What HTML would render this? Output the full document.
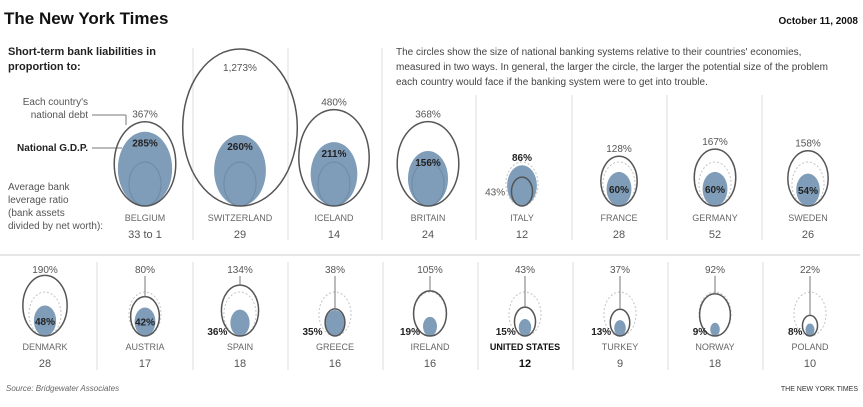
<!DOCTYPE html>
<html><head><meta charset="utf-8"><style>
body{margin:0;background:#fff;font-family:"Liberation Sans",sans-serif}
svg text{font-family:"Liberation Sans",sans-serif}
</style></head><body>
<svg id="c" width="863" height="402" viewBox="0 0 863 402">
<text x="4" y="24" font-family="Liberation Serif" font-size="17" font-weight="bold" fill="#111">The New York Times</text>
<text x="858" y="24" font-size="10" font-weight="bold" text-anchor="end" fill="#111">October 11, 2008</text>
<text x="8" y="55" font-size="11" font-weight="bold" fill="#222">Short-term bank liabilities in</text>
<text x="8" y="70" font-size="11" font-weight="bold" fill="#222">proportion to:</text>
<g font-size="10" fill="#444">
<text x="396" y="55">The circles show the size of national banking systems relative to their countries' economies,</text>
<text x="396" y="70">measured in two ways. In general, the larger the circle, the larger the potential size of the problem</text>
<text x="396" y="85">each country would face if the banking system were to get into trouble.</text>
</g>
<g font-size="10" fill="#555">
<text x="88" y="105" text-anchor="end">Each country's</text>
<text x="88" y="118" text-anchor="end">national debt</text>
<line x1="92" y1="115" x2="126" y2="115" stroke="#777"/><line x1="126" y1="115" x2="126" y2="125" stroke="#777"/>
<text x="88" y="151" text-anchor="end" font-weight="bold" fill="#222">National G.D.P.</text>
<line x1="92" y1="148" x2="122" y2="148" stroke="#777"/>
<text x="8" y="190">Average bank</text>
<text x="8" y="203">leverage ratio</text>
<text x="8" y="216">(bank assets</text>
<text x="8" y="229">divided by net worth):</text>
</g>
<line x1="0" y1="255" x2="860" y2="255" stroke="#ccc"/>
<text x="6" y="391" font-size="8" font-style="italic" fill="#666">Source: Bridgewater Associates</text>
<text x="858" y="391" font-size="7" font-family="Liberation Serif" text-anchor="end" fill="#333">THE NEW YORK TIMES</text>
<g id="g"></g>
</svg>
<script>
const countries=["BELGIUM","SWITZERLAND","ICELAND","BRITAIN","ITALY","FRANCE","GERMANY","SWEDEN","DENMARK","AUSTRIA","SPAIN","GREECE","IRELAND","UNITED STATES","TURKEY","NORWAY","POLAND"];
const debtPct=[367,1273,480,368,43,128,167,158,190,80,134,38,105,43,37,92,22];
const gdpPct=[285,260,211,156,86,60,60,54,48,42,36,35,19,15,13,9,8];
const leverage=["33 to 1","29","14","24","12","28","52","26","28","17","18","16","16","12","9","18","10"];
const topX=[145,240,334,428,522,619,715,808];
const botX=[45,145,240,335,430,525,620,715,810];
const NS="http://www.w3.org/2000/svg",g=document.getElementById('g');
const ry=v=>2.2*Math.sqrt(v), rx=v=>ry(v)*0.73;
function el(t,a,txt){const e=document.createElementNS(NS,t);for(const k in a)e.setAttribute(k,a[k]);if(txt!=null)e.textContent=txt;g.appendChild(e);return e;}
[193,288].forEach(x=>{const l=el('line',{x1:x,y1:48,x2:x,y2:240,stroke:'#ddd'});});
[382,476,572,667,762].forEach(x=>{const l=el('line',{x1:x,y1:x<390?48:95,x2:x,y2:240,stroke:'#ddd'});});
[97,193,288,383,478,573,668,763].forEach(x=>{const l=el('line',{x1:x,y1:262,x2:x,y2:370,stroke:'#ddd'});});
countries.forEach((c,i)=>{
  const top=i<8, cx=top?topX[i]:botX[i-8], base=top?206:336;
  const d=debtPct[i], p=gdpPct[i];
  const e1=el('ellipse',{cx,cy:base-ry(p),rx:rx(p),ry:ry(p),fill:'#7f9cb9'});
  
  const solidRef=p>=100;
  const ref=el('ellipse',{cx,cy:base-ry(100),rx:rx(100),ry:ry(100),fill:'none',stroke:solidRef?'#6d8aa6':'#c4c4c4','stroke-dasharray':solidRef?'':'2 2'});
  
  const e2=el('ellipse',{cx,cy:base-ry(d),rx:rx(d),ry:ry(d),fill:'none',stroke:'#555','stroke-width':1.5});
  
  const outerTop=base-2*ry(Math.max(d,100));
  let lx=cx, ly, anchor='middle';
  if(d<p){lx=cx-rx(p)-2;ly=base-ry(d)+4;anchor='end';}
  else if(ry(d)>60){ly=base-2*ry(d)+22;}
  else if(!top){ly=273;
    const ld=el('line',{x1:cx,y1:276,x2:cx,y2:base-2*ry(d),stroke:'#777'});}
  else ly=outerTop-4;
  const t1=el('text',{x:lx,y:ly,'font-size':10,fill:'#555','text-anchor':anchor},d.toLocaleString('en-US')+'%');
  
  let px=cx,py,pa='middle';
  const rp=ry(p);
  if(d<p) py=base-2*rp-4;
  else if(rp<14){px=cx-rx(p)-3;py=base-1;pa='end';}
  else if(rp<25) py=base-rp+4;
  else py=base-2*rp+15;
  const t2=el('text',{x:px,y:py,'font-size':10,'font-weight':'bold',fill:'#222','text-anchor':pa},p+'%');
  
  const us=c==="UNITED STATES";
  const n=el('text',{x:cx,y:top?221:350,'font-size':9,fill:us?'#111':'#666','font-weight':us?'bold':'normal','text-anchor':'middle'},c);
  
  const lv=el('text',{x:cx,y:top?238:367,'font-size':11,fill:us?'#111':'#555','font-weight':us?'bold':'normal','text-anchor':'middle'},leverage[i]);
  
});
</script>
</body></html>
